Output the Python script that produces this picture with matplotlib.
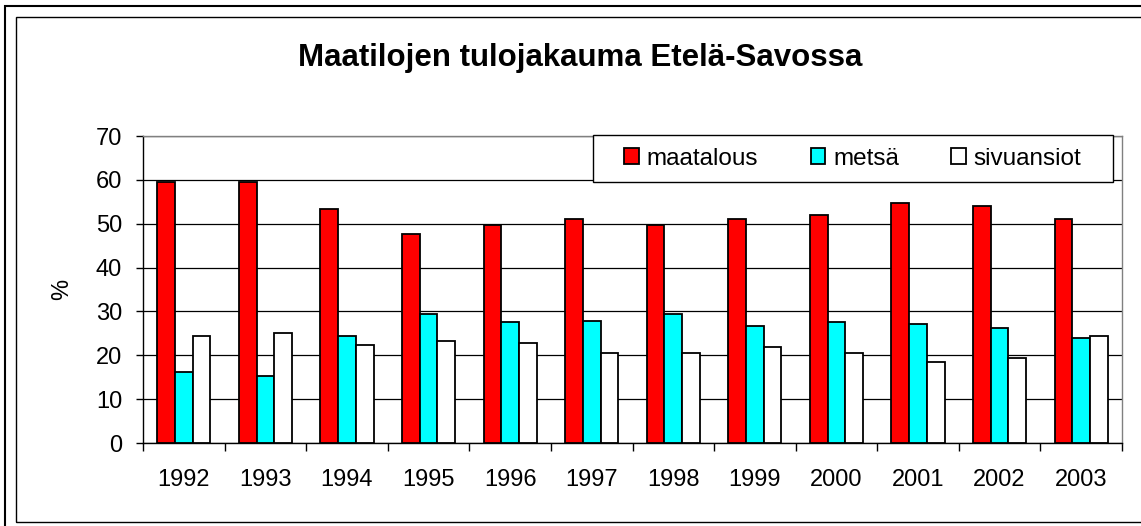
import numpy as np
import matplotlib
matplotlib.use('Agg')
import matplotlib.pyplot as plt
from matplotlib.patches import Rectangle

plt.rcParams['font.family'] = ['Liberation Sans', 'DejaVu Sans']

# Tiedot
vuodet = ['1992', '1993', '1994', '1995', '1996', '1997', '1998', '1999',
          '2000', '2001', '2002', '2003']
maatalous = [59.5, 59.5, 53.3, 47.7, 49.8, 51.1, 49.8, 51.1, 51.9, 54.7, 54.1, 51.1]
metsa = [16.1, 15.2, 24.4, 29.3, 27.6, 27.9, 29.3, 26.7, 27.6, 27.1, 26.3, 24.0]
sivuansiot = [24.4, 25.0, 22.3, 23.2, 22.8, 20.6, 20.6, 21.9, 20.6, 18.4, 19.3, 24.5]

sarjat = [('maatalous', maatalous, '#ff0000'),
          ('metsä', metsa, '#00ffff'),
          ('sivuansiot', sivuansiot, '#ffffff')]

W, H = 1141, 526
fig = plt.figure(figsize=(W / 100, H / 100), dpi=100)

# Kehykset
fig.add_artist(Rectangle((5.3 / W, -0.2), 1.5, 1.2 - 6.3 / H, transform=fig.transFigure,
                         fill=False, ec='black', lw=1.5))
fig.add_artist(Rectangle((15.5 / W, 4.3 / H), 1.5, 1 - 21.3 / H, transform=fig.transFigure,
                         fill=False, ec='black', lw=1.0))

ax = fig.add_axes([143 / W, 1 - 443 / H, 979 / W, 307 / H])

x = np.arange(len(vuodet))
leveys = 0.217
for i, (nimi, arvot, vari) in enumerate(sarjat):
    ax.bar(x + (i - 1) * leveys, arvot, leveys, color=vari, edgecolor='black',
           linewidth=1.3, label=nimi, zorder=3)

ax.set_xlim(-0.5, len(vuodet) - 0.5)
ax.set_ylim(0, 70)
ax.set_yticks(range(0, 71, 10))
ax.yaxis.grid(True, color='black', linewidth=0.9, zorder=0)
ax.set_axisbelow(True)

ax.set_xticks(x)
ax.set_xticklabels(vuodet)
ax.set_xticks(np.arange(-0.5, len(vuodet)), minor=True)
ax.tick_params(axis='x', which='major', length=0, pad=19, labelsize=17)
ax.tick_params(axis='x', which='minor', length=6, width=1, direction='out')
ax.tick_params(axis='y', length=5, width=1, direction='out', pad=10, labelsize=17)

ax.set_ylabel('%', fontsize=17)
ax.yaxis.set_label_coords(-0.0715, 0.5)

for s in ['left', 'bottom']:
    ax.spines[s].set_color('black')
    ax.spines[s].set_linewidth(1)
for s in ['top', 'right']:
    ax.spines[s].set_color('#808080')
    ax.spines[s].set_linewidth(1)

# Selite
ax.add_patch(Rectangle((0.4597, 0.850), 0.531, 0.153, transform=ax.transAxes,
                       fc='white', ec='black', lw=1, zorder=8, clip_on=False))
leg = ax.legend(loc='center', bbox_to_anchor=(0.7252, 0.9267), ncol=3, frameon=False,
                fontsize=17.5, handlelength=0.6, handleheight=0.6, handletextpad=0.32,
                columnspacing=2.16, borderaxespad=0)
leg.set_zorder(10)
for h in leg.legend_handles:
    h.set_linewidth(1.3)

fig.text(580 / W, 1 - 66 / H, 'Maatilojen tulojakauma Etelä-Savossa',
         ha='center', va='baseline', fontsize=22.5, fontweight='bold')

fig.savefig('out.png', dpi=100)
